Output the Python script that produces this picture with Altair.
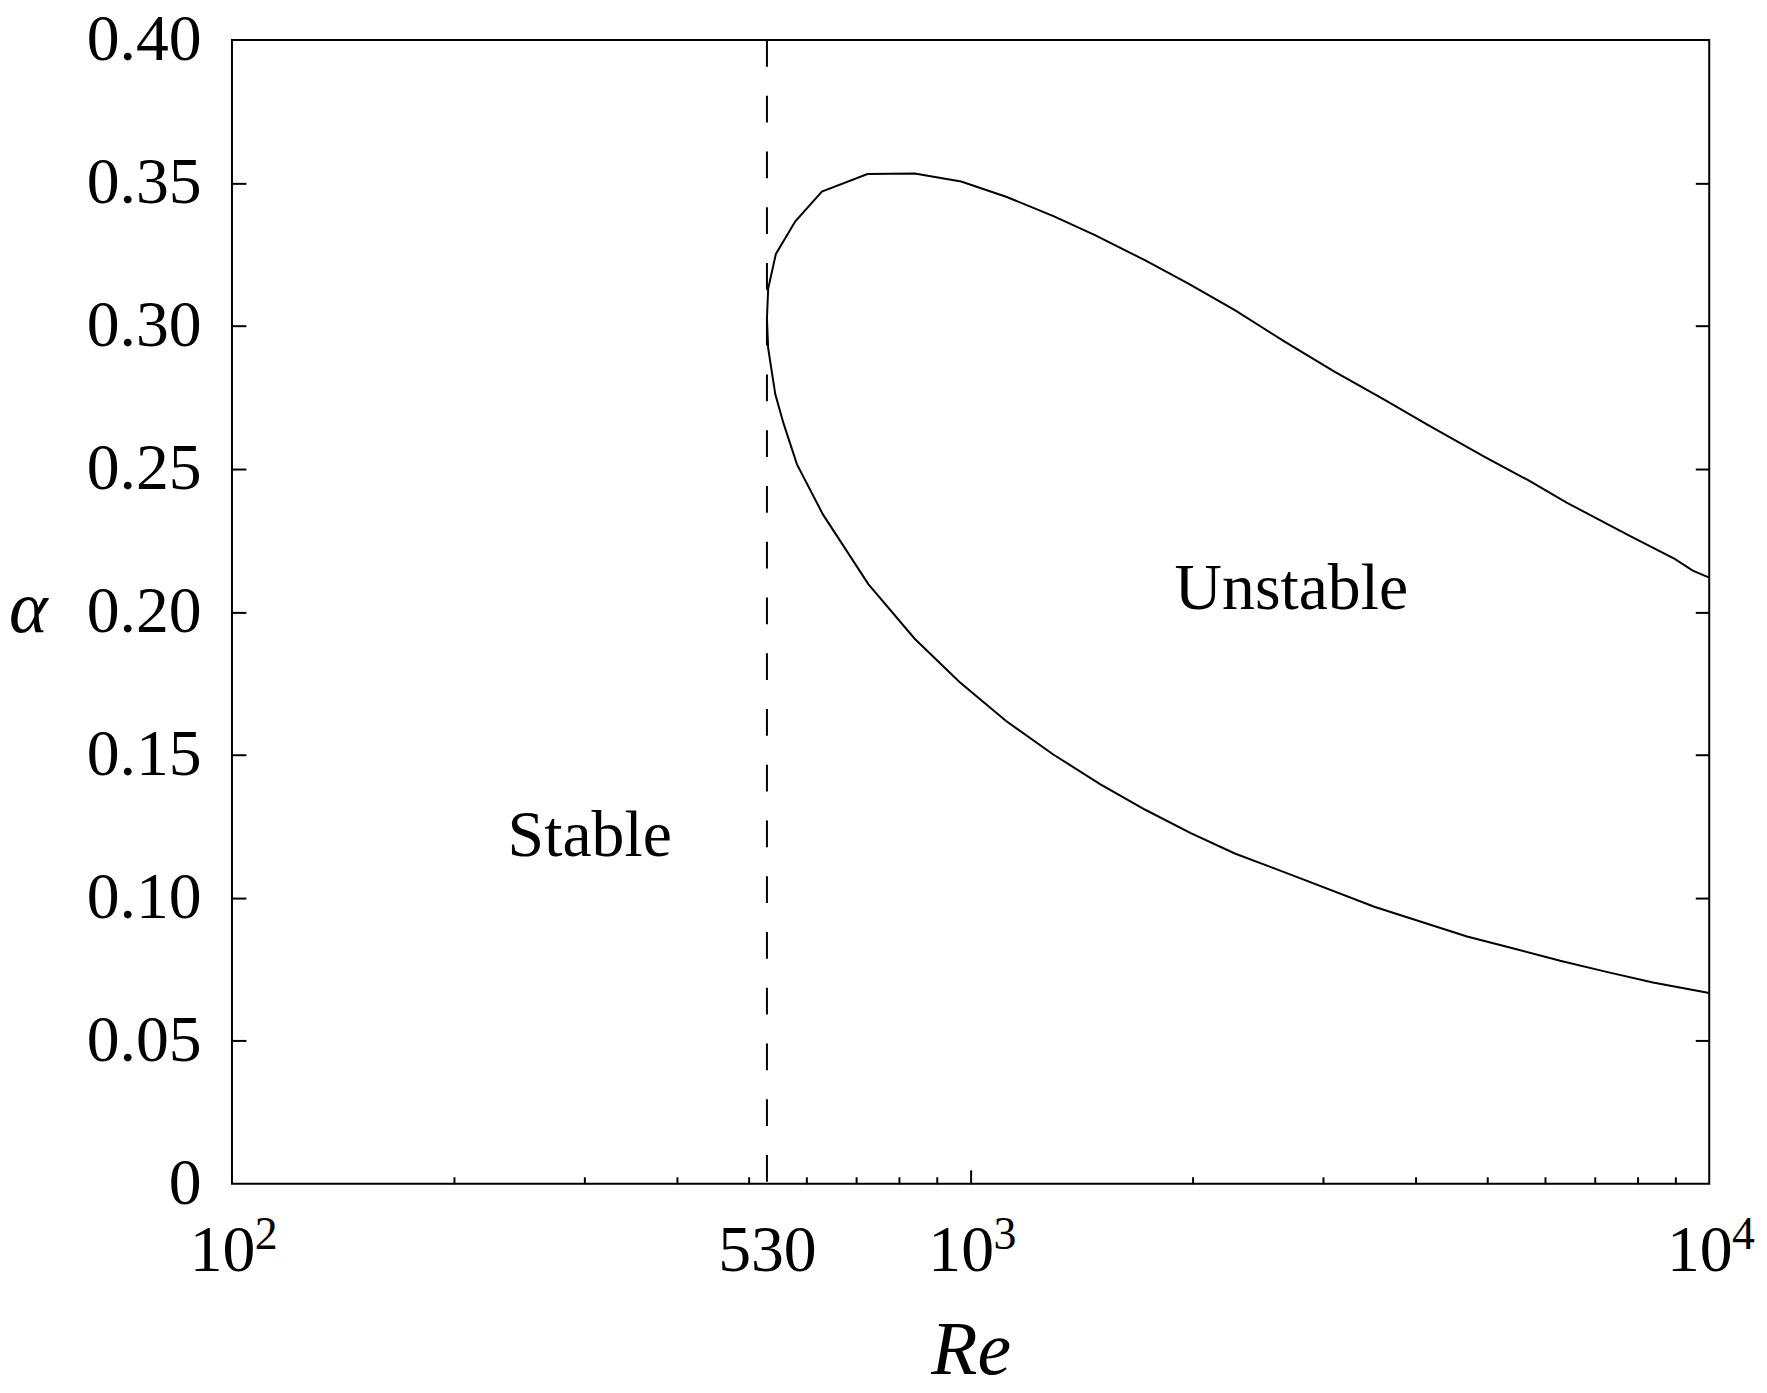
import altair as alt
import pandas as pd

# neutral curve, traced from lower-right end, around the nose, to upper-right end
curve_re = [10000, 8391, 7261, 6283, 5435, 4700, 3520, 2746, 2279, 1983, 1724, 1499,
            1291, 1116, 966, 840, 727, 631, 582, 558, 544, 532, 530, 532, 545, 579,
            629, 725, 840, 971, 1122, 1297, 1476, 1724, 1972, 2279, 2662, 3109, 3631,
            4153, 4951, 5664, 6412, 7806, 8979, 9500, 10000]
curve_alpha = [0.0667, 0.0704, 0.0741, 0.0780, 0.0823, 0.0865, 0.0969, 0.1076, 0.1155,
               0.1227, 0.1308, 0.1397, 0.1503, 0.1619, 0.1755, 0.1906, 0.2097, 0.2341,
               0.2516, 0.2660, 0.2761, 0.2922, 0.3026, 0.3130, 0.3252, 0.3366, 0.3470,
               0.3531, 0.3533, 0.3505, 0.3450, 0.3383, 0.3317, 0.3229, 0.3148, 0.3055,
               0.2945, 0.2840, 0.2742, 0.2655, 0.2544, 0.2463, 0.2382, 0.2266, 0.2185,
               0.2144, 0.2120]

critical_re = [530]
region_labels = ["Stable", "Unstable"]
region_re = [305, 2718]
region_alpha = [0.1145, 0.2010]

x_label_values = [100, 530, 1000, 10000]
x_exp_values = [100, 1000, 10000]
x_exp_text = ["2", "3", "4"]
x_major_ticks = [1000]
x_minor_ticks = [200, 300, 400, 500, 600, 700, 800, 900,
                 2000, 3000, 4000, 5000, 6000, 7000, 8000, 9000]
y_values = [0, 0.05, 0.10, 0.15, 0.20, 0.25, 0.30, 0.35, 0.40]
y_tick_values = [0.05, 0.10, 0.15, 0.20, 0.25, 0.30, 0.35]

FONT = "Liberation Serif"
XDOM = [100, 10000]
YDOM = [0, 0.4]
W, H = 1484, 1149

curve_df = pd.DataFrame({"Re": curve_re, "alpha": curve_alpha,
                         "order": list(range(len(curve_re)))})
crit_df = pd.DataFrame({"Re": critical_re, "top": [YDOM[1]], "bot": [YDOM[0]]})
text_df = pd.DataFrame({"Re": region_re, "alpha": region_alpha, "label": region_labels})
exp_df = pd.DataFrame({"Re": x_exp_values, "exp": x_exp_text})

xscale = alt.Scale(type="log", domain=XDOM, nice=False)
yscale = alt.Scale(domain=YDOM, nice=False, zero=False)

label_expr_x = "datum.value == 530 ? '530' : '10'"
label_expr_y = "datum.value == 0 ? '0' : format(datum.value, '.2f')"

curve = alt.Chart(curve_df).mark_line(color="black", strokeWidth=2).encode(
    x=alt.X("Re:Q", scale=xscale, axis=alt.Axis(
        orient="bottom", values=x_label_values, labelExpr=label_expr_x,
        ticks=False, domain=False, grid=False, labelFont=FONT, labelFontSize=66,
        labelColor="black", labelBaseline="alphabetic", labelPadding=87,
        labelOffset={"condition": {"test": "datum.value == 530", "value": 0},
                     "value": -10},
        labelFlush=False, labelOverlap=False,
        title="Re", titleFont=FONT, titleFontStyle="italic", titleFontWeight="normal",
        titleFontSize=76, titleColor="black", titleBaseline="alphabetic",
        titleY=191)),
    y=alt.Y("alpha:Q", scale=yscale, axis=alt.Axis(
        orient="left", values=y_values, labelExpr=label_expr_y, ticks=False,
        domain=False, grid=False, labelFont=FONT, labelFontSize=66,
        labelColor="black", labelPadding=31, labelFlush=False, labelOverlap=False,
        title="α", titleFont=FONT, titleFontStyle="italic", titleFontWeight="normal",
        titleFontSize=74, titleColor="black", titleAngle=0, titleAlign="center",
        titleBaseline="middle", titleX=-205, titleY=572)),
    order="order:Q",
)

crit = alt.Chart(crit_df).mark_rule(color="black", strokeWidth=2,
                                    strokeDash=[27, 29]).encode(
    x=alt.X("Re:Q", scale=xscale, axis=alt.Axis(
        orient="bottom", values=x_minor_ticks, labels=False, domain=False,
        grid=False, ticks=True, tickSize=7, tickWidth=2, tickColor="black",
        offset=-7, title=None)),
    y=alt.Y("top:Q", scale=yscale, axis=alt.Axis(
        orient="right", values=y_tick_values, labels=False, domain=False,
        grid=False, ticks=True, tickSize=14, tickWidth=2, tickColor="black",
        offset=-14, title=None)),
    y2="bot:Q",
)

texts = alt.Chart(text_df).mark_text(font=FONT, fontSize=66, color="black",
                                     align="center", baseline="alphabetic").encode(
    x=alt.X("Re:Q", scale=xscale, axis=alt.Axis(
        orient="bottom", values=x_major_ticks, labels=False, domain=False,
        grid=False, ticks=True, tickSize=14, tickWidth=2, tickColor="black",
        offset=-14, title=None)),
    y=alt.Y("alpha:Q", scale=yscale, axis=alt.Axis(
        orient="left", values=y_tick_values, labels=False, domain=False,
        grid=False, ticks=True, tickSize=14, tickWidth=2, tickColor="black",
        offset=-14, title=None)),
    text="label:N",
)

# exponents of the 10^n tick labels
exps = alt.Chart(exp_df).mark_text(font=FONT, fontSize=46, color="black",
                                   align="left", baseline="alphabetic",
                                   dx=23, clip=False).encode(
    x=alt.X("Re:Q", scale=xscale, axis=None),
    y=alt.value(H + 66),
    text="exp:N",
)

chart = alt.layer(curve, crit, texts, exps).resolve_axis(
    x="independent", y="independent"
).properties(
    width=W, height=H,
    autosize=alt.AutoSizeParams(type="none"),
    padding={"left": 225, "top": 29, "right": 50, "bottom": 198},
).configure_view(stroke="black", strokeWidth=2)

chart.save("out.html", embed_options={"renderer": "svg", "actions": False})
